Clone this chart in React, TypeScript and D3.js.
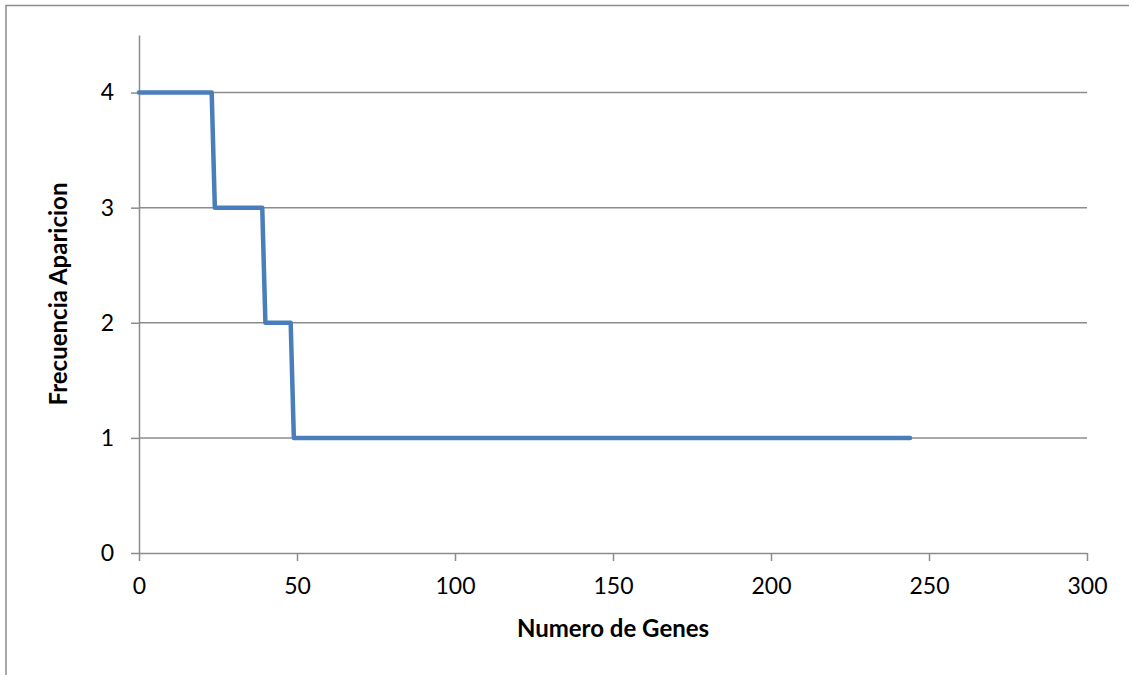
import React, { useEffect, useRef } from 'react';
import * as d3 from 'd3';

// genes ranked by appearance frequency
const numeroGenes = [0, 23, 24, 39, 40, 48, 49, 244];
const frecuencia = [4, 4, 3, 3, 2, 2, 1, 1];
const xTicks = [0, 50, 100, 150, 200, 250, 300];
const yTicks = [0, 1, 2, 3, 4];

export default function App() {
  const svgRef = useRef<SVGSVGElement>(null);

  useEffect(() => {
    const w = 1129;
    const h = 675;
    const svg = d3.select(svgRef.current).attr('width', w).attr('height', h);
    svg.selectAll('*').remove();

    // outer frame
    svg
      .append('rect')
      .attr('x', 6)
      .attr('y', 5.5)
      .attr('width', w + 20)
      .attr('height', h + 20)
      .attr('fill', 'white')
      .attr('stroke', '#8c8c8c')
      .attr('stroke-width', 1.5);

    const left = 139;
    const right = 1087;
    const top = 35;
    const bottom = 553;

    const xScale = d3.scaleLinear().domain([0, 300]).range([left, right]);
    const yScale = d3.scaleLinear().domain([0, 4.5]).range([bottom, top]);

    // gridlines
    svg
      .append('g')
      .selectAll('line')
      .data(yTicks.filter((t) => t > 0))
      .join('line')
      .attr('x1', left)
      .attr('x2', right)
      .attr('y1', (d) => yScale(d))
      .attr('y2', (d) => yScale(d))
      .attr('stroke', '#8c8c8c')
      .attr('stroke-width', 1.5);

    const font = 'Lato, "Open Sans", sans-serif';

    // axes
    const xAxis = d3
      .axisBottom(xScale)
      .tickValues(xTicks)
      .tickFormat(d3.format('d'))
      .tickSize(8)
      .tickPadding(17)
      .tickSizeOuter(0);
    const gx = svg.append('g').attr('transform', `translate(0,${bottom})`).call(xAxis);

    const yAxis = d3
      .axisLeft(yScale)
      .tickValues(yTicks)
      .tickFormat(d3.format('d'))
      .tickSize(8)
      .tickPadding(17)
      .tickSizeOuter(0);
    const gy = svg.append('g').attr('transform', `translate(${left},0)`).call(yAxis);

    [gx, gy].forEach((g) => {
      g.select('.domain').attr('stroke', '#8c8c8c').attr('stroke-width', 1.5);
      g.selectAll('.tick line').attr('stroke', '#8c8c8c').attr('stroke-width', 1.5);
      g.selectAll('.tick text')
        .attr('fill', '#000')
        .style('font-family', font)
        .style('font-size', '23px');
    });

    // step line
    const pts = numeroGenes.map((x, i) => [x, frecuencia[i]] as [number, number]);
    const line = d3
      .line<[number, number]>()
      .x((d) => xScale(d[0]))
      .y((d) => yScale(d[1]));
    svg
      .append('path')
      .datum(pts)
      .attr('d', line)
      .attr('fill', 'none')
      .attr('stroke', '#4a7ebb')
      .attr('stroke-width', 4.5)
      .attr('stroke-linejoin', 'round')
      .attr('stroke-linecap', 'round');

    // axis titles
    svg
      .append('text')
      .attr('x', 613)
      .attr('y', 637)
      .attr('text-anchor', 'middle')
      .style('font-family', font)
      .style('font-size', '24px')
      .style('font-weight', 'bold')
      .text('Numero de Genes');

    svg
      .append('text')
      .attr('transform', 'translate(67,294) rotate(-90)')
      .attr('text-anchor', 'middle')
      .style('font-family', font)
      .style('font-size', '24px')
      .style('font-weight', 'bold')
      .text('Frecuencia Aparicion');
  }, []);

  return (
    <div style={{ position: 'absolute', top: 0, left: 0 }}>
      <svg ref={svgRef} style={{ display: 'block' }}></svg>
    </div>
  );
}
